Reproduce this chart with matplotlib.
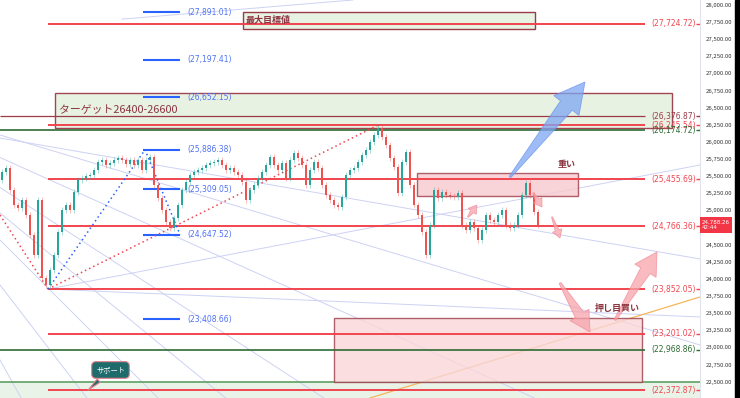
import numpy as np
import matplotlib.pyplot as plt
from matplotlib.patches import Rectangle, Polygon
from matplotlib.transforms import IdentityTransform
from matplotlib.ticker import MultipleLocator, FuncFormatter

plt.rcParams['font.family'] = ['Noto Sans CJK JP', 'DejaVu Sans']

#%% data
first_open = 25450
closes = [25562, 25620, 25299, 25080, 25036, 25153, 24934, 24642, 24350, 25153,
          24014, 23912, 24131, 24350, 24686, 25007, 25080, 25007, 25270, 25445,
          25474, 25503, 25518, 25591, 25708, 25737, 25664, 25693, 25737, 25766,
          25737, 25679, 25737, 25664, 25737, 25591, 25737, 25781, 25372, 25182,
          25007, 24832, 24744, 24890, 25080, 25299, 25416, 25518, 25562, 25591,
          25620, 25664, 25693, 25708, 25737, 25664, 25591, 25620, 25562, 25518,
          25416, 25153, 25299, 25372, 25474, 25562, 25664, 25781, 25664, 25591,
          25693, 25474, 25737, 25839, 25766, 25664, 25372, 25591, 25708, 25620,
          25372, 25226, 25153, 25080, 25051, 25197, 25518, 25591, 25620, 25708,
          25810, 25883, 26000, 26102, 26204, 26073, 25956, 25766, 25635, 25255,
          25708, 25854, 25372, 25080, 24934, 24686, 24350, 24788, 25299, 25182,
          25270, 25226, 25211, 25197, 25255, 24788, 24715, 24832, 24744, 24569,
          24715, 24934, 24861, 24832, 24934, 25007, 24788, 24744, 24788, 24934,
          25226, 25401, 25226, 24978, 24788]
last_price = 24788.26

red_levels = [27724.72, 26245.54, 25455.69, 24766.36, 23852.05, 23201.02, 22372.87]
darkred_levels = [26376.87]
green_levels = [26174.72, 22968.86]
fib_levels = [27891.01, 27197.41, 26652.15, 25886.38, 25309.05, 24647.52, 23408.66]
support_level = 22500

swing_low = 23852.05
swing_high = 25886.38
top_high = 26245.54

UP = '#26a69a'
DOWN = '#ef5350'
RED = '#f2454f'
DARKRED = '#9c3b48'
GREEN = '#2e6b34'
BLUE = '#2962ff'
FAN = '#cdd2f4'

fig = plt.figure(figsize=(7.4, 3.98), dpi=100)
ax = fig.add_axes([0, 0, 700 / 740, 1])
ax.set_xlim(-0.5, 174.5)
ax.set_ylim(22262, 28073)

#%% fan / trend lines
fan_slopes = [0.3, 0.45, 0.65, 0.82, 1.0, 1.3, 1.8]
fx = np.array([-38, 174.5])
for s in fan_slopes:
    ax.plot(fx, 26759 - s * 58.4 * (fx + 38), color=FAN, lw=0.7, zorder=1)
ax.plot([-0.5, 174.5], [26058, 24292], color=FAN, lw=0.7, zorder=1)
ax.plot([11.5, 174.5], [swing_low, 25664], color=FAN, lw=0.7, zorder=1)
ax.plot([11.5, 174.5], [swing_low, 23445], color=FAN, lw=0.7, zorder=1)
ax.plot([30, 87.75], [27794, 28073], color=FAN, lw=0.7, zorder=1)
ax.plot([92, 174.5], [22262, 23737], color='#f7b55b', lw=0.9, zorder=1)

#%% zones
ax.add_patch(Rectangle((-0.5, 22262), 175, support_level - 22262, fc='#e9f3e8', ec='none', zorder=0))
ax.axhline(support_level, color='#5c9f63', lw=1.2, zorder=2)
ax.add_patch(Rectangle((13.25, 26204), 154.25, 511, fc='#e6f2e2', ec=DARKRED, lw=1.0, zorder=2, alpha=0.95))
ax.add_patch(Rectangle((60.25, 27650), 73, 248, fc='#e6f2e2', ec=DARKRED, lw=1.0, zorder=2))
ax.add_patch(Rectangle((103.75, 25211), 40.25, 336, fc='#f7c9cd', ec=DARKRED, lw=1.0, alpha=0.8, zorder=2))
ax.add_patch(Rectangle((83, 22496), 77, 934, fc='#f9d6d9', ec=DARKRED, lw=1.0, alpha=0.8, zorder=2))

#%% horizontal levels
for lvl in red_levels:
    ax.hlines(lvl, 11.5, 160.75, color=RED, lw=1.4, zorder=3)
for lvl in darkred_levels:
    ax.hlines(lvl, -0.5, 160.75, color=DARKRED, lw=0.9, zorder=3)
for lvl in green_levels:
    ax.hlines(lvl, -0.5, 160.75, color=GREEN, lw=1.2, zorder=3)
for lvls, c in [(red_levels, RED), (darkred_levels, DARKRED), (green_levels, GREEN)]:
    for lvl in lvls:
        ax.text(162.3, lvl, f"({lvl:,.2f})", color=c, fontsize=5.5, va='center',
                family='DejaVu Sans', zorder=5)
        ax.hlines(lvl, 173.4, 174.4, color=c, lw=1, zorder=5)

for lvl in fib_levels:
    ax.hlines(lvl, 35.25, 44.5, color=BLUE, lw=1.5, zorder=3)
    ax.text(46.3, lvl, f"({lvl:,.2f})", color='#4f72f5', fontsize=5.5, va='center',
            family='DejaVu Sans', zorder=5)

#%% dotted swing lines
ax.plot([-0.5, 11.5], [24934, swing_low], ls=(0, (1, 2)), color=RED, lw=1.1, zorder=3)
ax.plot([11.5, 94], [swing_low, top_high], ls=(0, (1, 2)), color=RED, lw=1.1, zorder=3)
ax.plot([11.5, 35.75, 44.5], [swing_low, swing_high, 24647.52], ls=(0, (1, 2)), color=BLUE, lw=1.1, zorder=3)

#%% candles
closes = np.array(closes)
opens = np.r_[first_open, closes[:-1]]
idx = np.arange(len(closes))
cols = np.where(closes >= opens, UP, DOWN)
lo = np.minimum(opens, closes)
hi = np.maximum(opens, closes)
ax.vlines(idx, lo - 45, hi + 45, colors=cols, lw=0.6, alpha=0.45, zorder=4)
ax.bar(idx, np.maximum(hi - lo, 12), bottom=lo, width=0.72, color=cols, lw=0, zorder=4)


#%% arrows (tapered: thin tail, wide near the head), sizes in pixels
def arrow(tail, head, tw0, tw1, hw, hl, fc, ec, alpha):
    p0 = ax.transData.transform(tail)
    p1 = ax.transData.transform(head)
    d = p1 - p0
    u = d / np.hypot(*d)
    n = np.array([-u[1], u[0]])
    b = p1 - u * hl
    pts = [p0 + n * tw0 / 2, b + n * tw1 / 2, b + n * hw / 2, p1,
           b - n * hw / 2, b - n * tw1 / 2, p0 - n * tw0 / 2]
    ax.add_patch(Polygon(pts, closed=True, transform=IdentityTransform(),
                         fc=fc, ec=ec, lw=0.6, alpha=alpha, zorder=6))

PINK_FC, PINK_EC = '#f7a3ab', '#f08a94'
arrow((127, 25489), (145.75, 26876), 2, 15, 32, 30, '#7ea6f3', '#6a93ee', 0.75)
arrow((153.25, 23401), (163.75, 24394), 2, 11, 25, 22, PINK_FC, PINK_EC, 0.75)
arrow((139.5, 23941), (147, 23226), 2, 10, 22, 20, PINK_FC, PINK_EC, 0.75)
arrow((116.5, 24905), (118.75, 25080), 1, 4, 10, 8, PINK_FC, PINK_EC, 0.75)
arrow((132.75, 25255), (135, 25051), 1, 4, 10, 8, PINK_FC, PINK_EC, 0.75)
arrow((137.5, 24905), (139.5, 24598), 1, 4, 10, 8, PINK_FC, PINK_EC, 0.75)

#%% texts
ax.text(14.2, 26467, 'ターゲット26400-26600', color='#8c3540', fontsize=7.8, va='center', zorder=6)
ax.text(61, 27772, '最大目標値', color='#8c3540', fontsize=6.5, fontweight='bold', va='center', zorder=6)
ax.text(139, 25664, '重い', color='#8c3540', fontsize=6.5, fontweight='bold', va='center', zorder=6)
ax.text(148.2, 23562, '押し目買い', color='#8c3540', fontsize=6.5, fontweight='bold', va='center', zorder=6)
ax.annotate('サポート', xy=(21, 22350), xytext=(23.5, 22671), color='white', fontsize=5.2,
            va='center', zorder=7,
            bbox=dict(boxstyle='round,pad=0.6', fc='#1e6b6b', ec='#e2828d', lw=0.8),
            arrowprops=dict(arrowstyle='wedge,tail_width=0.6', fc='#1e6b6b', ec='#e2828d', lw=0.8))

#%% right price axis
ax.yaxis.tick_right()
ax.yaxis.set_major_locator(MultipleLocator(250))
ax.yaxis.set_major_formatter(FuncFormatter(lambda v, p: f"{v:,.2f}"))
ax.tick_params(axis='y', length=0, pad=4, labelsize=4.3, labelcolor='#333333')
ax.set_xticks([])
for s in ['top', 'left', 'bottom']:
    ax.spines[s].set_visible(False)
ax.spines['right'].set_color('#e0e3eb')
ax.spines['right'].set_linewidth(0.8)

ax.annotate(f"{last_price:,.2f}\n42:44", xy=(1.0, last_price), xycoords=ax.get_yaxis_transform(),
            xytext=(1.5, 0), textcoords='offset points', color='white', fontsize=4.0,
            family='DejaVu Sans', va='center', ha='left', annotation_clip=False, zorder=8,
            bbox=dict(boxstyle='square,pad=0.4', fc='#f23645', ec='none'))

fig.add_artist(Rectangle((735 / 740, 0), 5 / 740, 1, transform=fig.transFigure, color='black'))

fig.savefig('out.png', dpi=100)
